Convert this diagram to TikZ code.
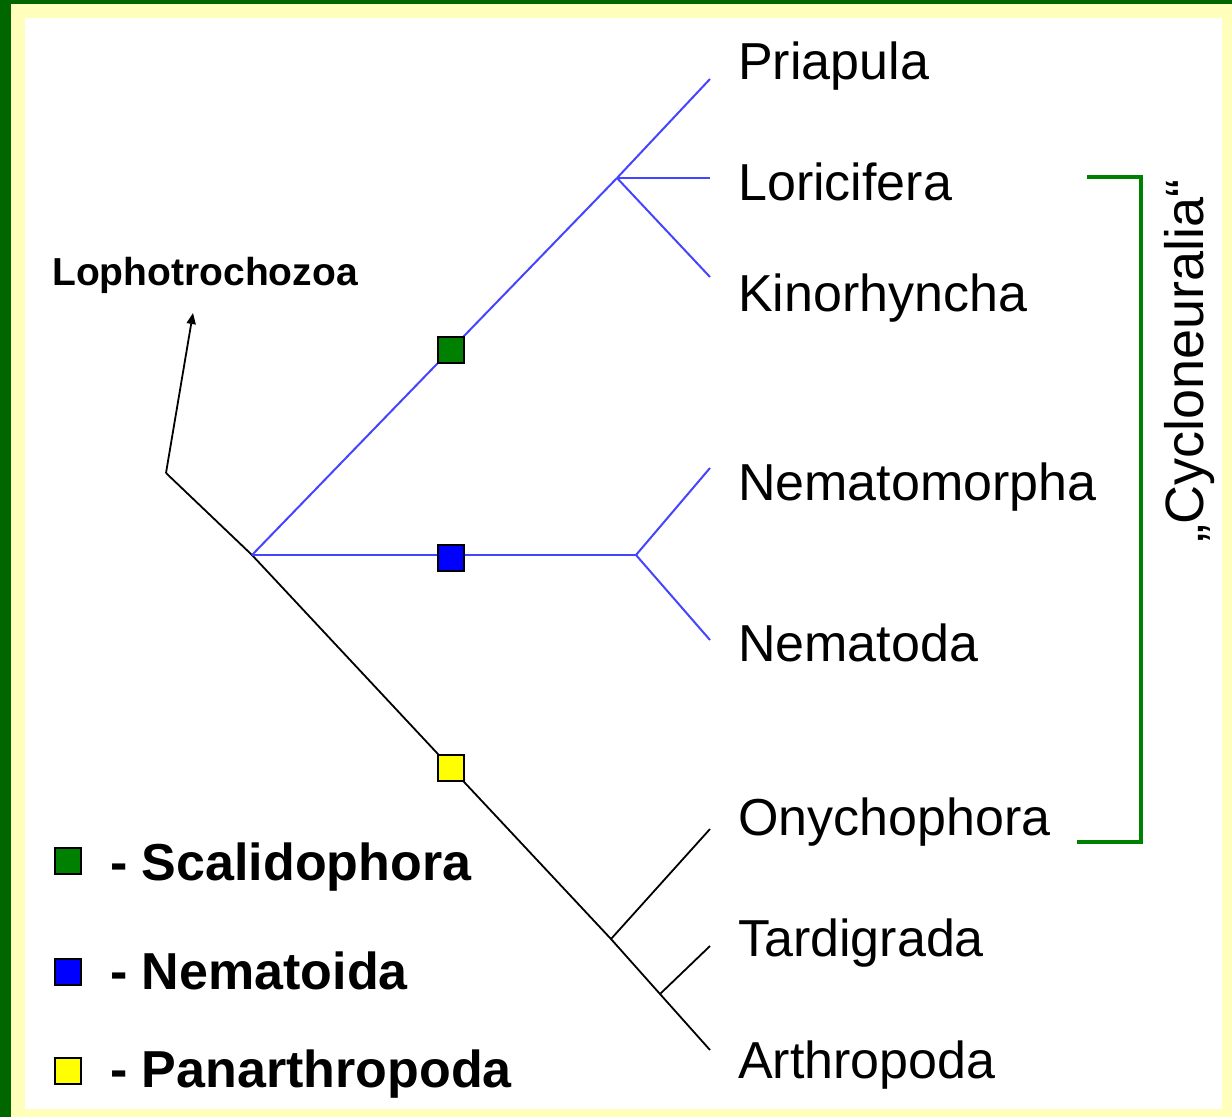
\documentclass[tikz,border=0pt]{standalone}
\usepackage{fontspec}
\setmainfont{Liberation Sans}
\usetikzlibrary{arrows.meta}
\definecolor{frameg}{HTML}{006600}
\definecolor{framey}{HTML}{FFFFBB}
\definecolor{sqgreen}{HTML}{008000}
\definecolor{sqblue}{HTML}{0000FF}
\definecolor{sqyellow}{HTML}{FFFF00}
\definecolor{lineblue}{HTML}{4545FF}
\definecolor{brgreen}{HTML}{008000}
\begin{document}
\begin{tikzpicture}[x=1pt,y=-1pt,
  taxon/.style={anchor=base west,font=\fontsize{52}{62}\selectfont,inner sep=0pt},
  legtext/.style={anchor=base west,font=\fontsize{52}{62}\selectfont\bfseries,inner sep=0pt},
  markbox/.style={draw=black,line width=1.5pt,minimum size=26pt,inner sep=0pt},
  blueline/.style={draw=lineblue,line width=2pt},
  blackline/.style={draw=black,line width=1.8pt},
  bracketline/.style={draw=brgreen,line width=4pt}]
\useasboundingbox (0,0) rectangle (1232,1117);
% frame
\fill[framey] (0,0) rectangle (1232,1117);
\fill[frameg] (0,0) rectangle (11,1117);
\fill[frameg] (0,0) rectangle (1232,4);
\fill[white] (25,18) rectangle (1222,1109);

% tree points
\coordinate (R) at (166,473);
\coordinate (J1) at (252,555);
\coordinate (Y) at (451,768);
\coordinate (N1) at (611,939);
\coordinate (N2) at (660,994);
\coordinate (S) at (617,178);
\coordinate (B1) at (636,555);
\coordinate (tPri) at (710,79);
\coordinate (tLor) at (710,178);
\coordinate (tKin) at (710,277);
\coordinate (tNmm) at (710,468);
\coordinate (tNmd) at (710,640);
\coordinate (tOny) at (710,829);
\coordinate (tTar) at (710,946);
\coordinate (tArt) at (710,1050);
\coordinate (LophTip) at (193,313);

% black lines
\draw[blackline] (R) -- (J1) -- (Y) -- (N1) -- (N2) -- (tArt);
\draw[blackline] (N1) -- (tOny);
\draw[blackline] (N2) -- (tTar);
\draw[black,line width=1.8pt,-{Triangle[length=11pt,width=9pt]}] (R) -- (LophTip);

% blue lines
\draw[blueline] (J1) -- (S);
\draw[blueline] (S) -- (tPri);
\draw[blueline] (S) -- (tLor);
\draw[blueline] (S) -- (tKin);
\draw[blueline] (J1) -- (B1);
\draw[blueline] (B1) -- (tNmm);
\draw[blueline] (B1) -- (tNmd);

% character squares
\node[markbox,fill=sqgreen] (mG) at (451,350) {};
\node[markbox,fill=sqblue] (mB) at (451,558) {};
\node[markbox,fill=sqyellow] (mY) at (451,768) {};

% labels
\node[taxon] (Pri) at (738,79) {Priapula};
\node[taxon] (Lor) at (738,200) {Loricifera};
\node[taxon] (Kin) at (738,311) {Kinorhyncha};
\node[taxon] (Nmm) at (738,500) {Nematomorpha};
\node[taxon] (Nmd) at (738,661) {Nematoda};
\node[taxon] (Ony) at (738,835) {Onychophora};
\node[taxon] (Tar) at (738,956) {Tardigrada};
\node[taxon] (Art) at (738,1078) {Arthropoda};
\node[anchor=base west,inner sep=0pt,font=\fontsize{39}{46}\selectfont\bfseries] (Loph) at (52,285) {Lophotrochozoa};

% bracket
\coordinate (brA) at (1087,177);
\coordinate (brB) at (1141,177);
\coordinate (brC) at (1141,842);
\coordinate (brD) at (1077,842);
\draw[bracketline,line join=miter] (brA) -- (brB) -- (brC) -- (brD);
\node[rotate=90,anchor=base,inner sep=0pt,font=\fontsize{54}{64}\selectfont] (Cyc) at (1203,361) {„Cycloneuralia“};

% legend
\node[markbox,fill=sqgreen] (lG) at (68,861) {};
\node[markbox,fill=sqblue] (lB) at (68,972) {};
\node[markbox,fill=sqyellow] (lY) at (68,1071) {};
\node[legtext] (tG) at (110,880) {- Scalidophora};
\node[legtext] (tB) at (110,989) {- Nematoida};
\node[legtext] (tY) at (110,1087) {- Panarthropoda};
\end{tikzpicture}
\end{document}
